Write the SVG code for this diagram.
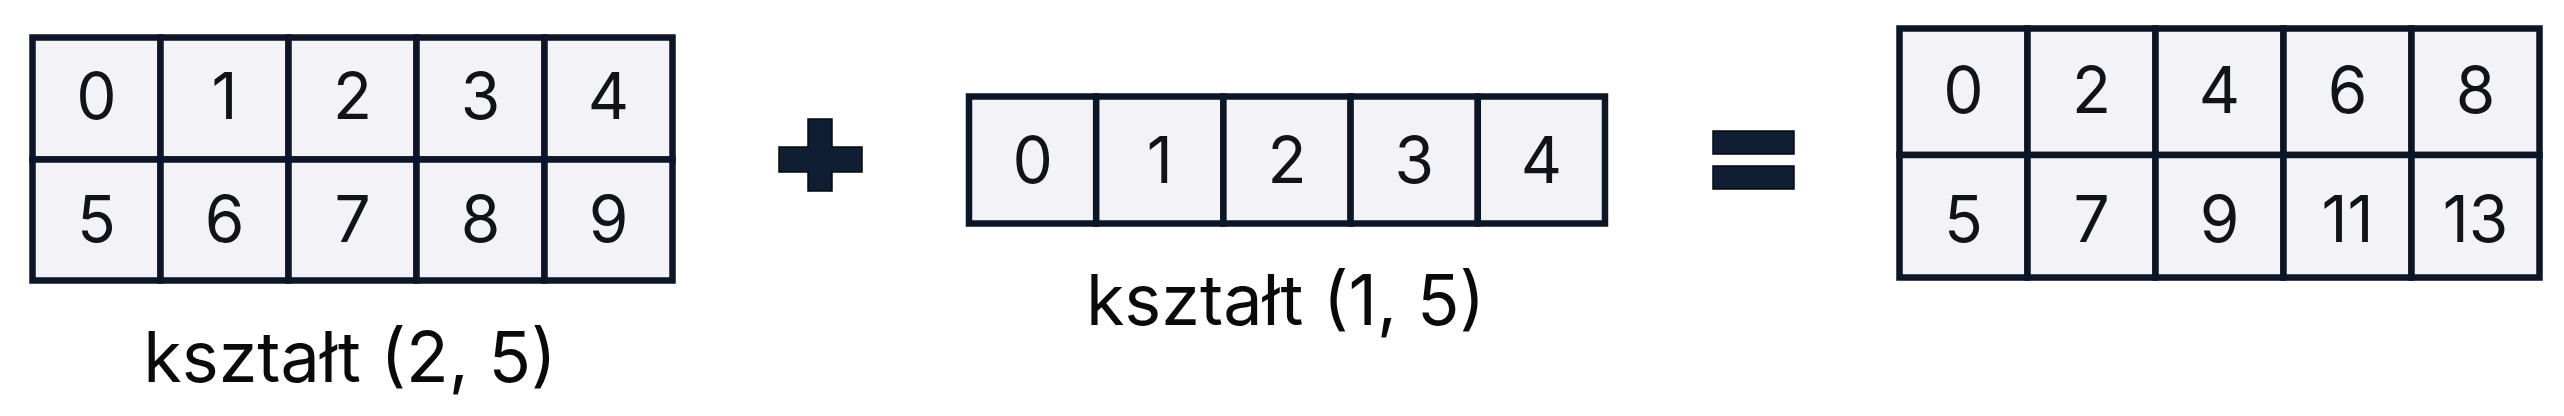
<svg xmlns="http://www.w3.org/2000/svg" width="2564" height="416" viewBox="0 0 2564 416">
<style>
.cell{fill:#f3f3f7;stroke:#0d1626;stroke-width:6.5;stroke-linejoin:miter}
.num{font-family:Inter,"Noto Sans","DejaVu Sans",sans-serif;font-size:64px;fill:#111319;text-anchor:middle}
.lbl{font-family:Inter,"Noto Sans","DejaVu Sans",sans-serif;font-size:70px;fill:#0a0a0a;text-anchor:middle}
.op{fill:#0f1e33;stroke:#05080d;stroke-width:1.5}
</style>
<rect width="2564" height="416" fill="#ffffff"/>
<g id="array-2x5">
<rect class="cell" x="32.5" y="37.5" width="128" height="122"/>
<rect class="cell" x="160.5" y="37.5" width="128" height="122"/>
<rect class="cell" x="288.5" y="37.5" width="128" height="122"/>
<rect class="cell" x="416.5" y="37.5" width="128" height="122"/>
<rect class="cell" x="544.5" y="37.5" width="128" height="122"/>
<rect class="cell" x="32.5" y="159.5" width="128" height="121"/>
<rect class="cell" x="160.5" y="159.5" width="128" height="121"/>
<rect class="cell" x="288.5" y="159.5" width="128" height="121"/>
<rect class="cell" x="416.5" y="159.5" width="128" height="121"/>
<rect class="cell" x="544.5" y="159.5" width="128" height="121"/>
<text class="num" x="96.5" y="119">0</text>
<text class="num" x="224.5" y="119">1</text>
<text class="num" x="352.5" y="119">2</text>
<text class="num" x="480.5" y="119">3</text>
<text class="num" x="608.5" y="119">4</text>
<text class="num" x="96.5" y="242">5</text>
<text class="num" x="224.5" y="242">6</text>
<text class="num" x="352.5" y="242">7</text>
<text class="num" x="480.5" y="242">8</text>
<text class="num" x="608.5" y="242">9</text>
</g>
<g id="label-2x5"><text class="lbl" x="350" y="382">kształt (2, 5)</text></g>
<g id="plus-sign">
<path class="op" d="M808,119H832V147H862V172H832V191H808V172H779V147H808Z"/>
</g>
<g id="array-1x5">
<rect class="cell" x="969" y="96.5" width="127.2" height="127"/>
<rect class="cell" x="1096.2" y="96.5" width="127.2" height="127"/>
<rect class="cell" x="1223.4" y="96.5" width="127.2" height="127"/>
<rect class="cell" x="1350.6" y="96.5" width="127.2" height="127"/>
<rect class="cell" x="1477.8" y="96.5" width="127.2" height="127"/>
<text class="num" x="1032.6" y="183">0</text>
<text class="num" x="1159.8" y="183">1</text>
<text class="num" x="1287" y="183">2</text>
<text class="num" x="1414.2" y="183">3</text>
<text class="num" x="1541.4" y="183">4</text>
</g>
<g id="label-1x5"><text class="lbl" x="1285.5" y="325">kształt (1, 5)</text></g>
<g id="equals-sign">
<rect class="op" x="1713" y="131" width="81" height="23"/>
<rect class="op" x="1713" y="166" width="81" height="23"/>
</g>
<g id="array-result">
<rect class="cell" x="1899.5" y="28.5" width="128" height="126.5"/>
<rect class="cell" x="2027.5" y="28.5" width="128" height="126.5"/>
<rect class="cell" x="2155.5" y="28.5" width="128" height="126.5"/>
<rect class="cell" x="2283.5" y="28.5" width="128" height="126.5"/>
<rect class="cell" x="2411.5" y="28.5" width="128" height="126.5"/>
<rect class="cell" x="1899.5" y="155" width="128" height="122.5"/>
<rect class="cell" x="2027.5" y="155" width="128" height="122.5"/>
<rect class="cell" x="2155.5" y="155" width="128" height="122.5"/>
<rect class="cell" x="2283.5" y="155" width="128" height="122.5"/>
<rect class="cell" x="2411.5" y="155" width="128" height="122.5"/>
<text class="num" x="1963.5" y="113">0</text>
<text class="num" x="2091.5" y="113">2</text>
<text class="num" x="2219.5" y="113">4</text>
<text class="num" x="2347.5" y="113">6</text>
<text class="num" x="2475.5" y="113">8</text>
<text class="num" x="1963.5" y="242">5</text>
<text class="num" x="2091.5" y="242">7</text>
<text class="num" x="2219.5" y="242">9</text>
<text class="num" x="2347.5" y="242">11</text>
<text class="num" x="2475.5" y="242">13</text>
</g>
<g id="connectors"/>
</svg>
